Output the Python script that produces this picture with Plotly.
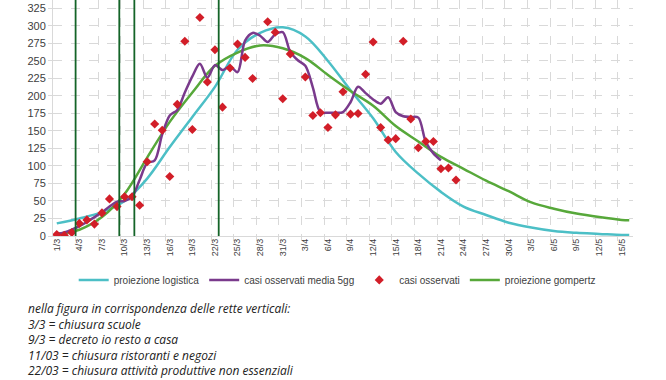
import plotly.graph_objects as go

# ---- data ----
tick_labels = ["1/3", "4/3", "7/3", "10/3", "13/3", "16/3", "19/3", "22/3", "25/3", "28/3",
               "31/3", "3/4", "6/4", "9/4", "12/4", "15/4", "18/4", "21/4", "24/4", "27/4",
               "30/4", "3/5", "6/5", "9/5", "12/5", "15/5"]
tick_days = list(range(0, 76, 3))          # day index of each tick label (1/3 = day 0)

observed_days = list(range(0, 54))
observed_cases = [2, 1, 5, 18, 23, 17, 33, 53, 42, 56,
                  56, 44, 106, 160, 151, 85, 188, 278, 152, 312,
                  220, 266, 184, 240, 274, 255, 225, None, 306, 291,
                  196, 260, None, 227, 172, 176, 155, 173, 206, 174,
                  175, 231, 277, 155, 137, 139, 278, 167, 126, 135,
                  135, 96, 97, 80]

ma5_days = list(range(0, 52))
ma5_cases = [3, 5, 9, 14, 20, 27, 34, 42, 49, 50,
             56, 80, 104, 108, 145, 172, 180, 205, 228, 246,
             226, 244, 237, 242, 234, 279, 290, 286, 277, 288,
             291, 263, 251, 243, 212, 177, 176, 176, 177, 191,
             213, 204, 195, 189, 198, 177, 171, 170, 169, 134,
             118, 108]

fit_days = [0, 3, 6, 9, 12, 15, 18, 21, 24, 27, 30, 33, 36, 39, 42, 45, 48, 51,
            54, 57, 60, 63, 66, 69, 72, 75, 76]
logistic = [18, 25, 34, 50, 82, 127, 170, 213, 266, 290, 298, 285, 250, 208, 168, 120,
            89, 63, 42, 30, 19, 12, 7, 4.5, 3, 1.5, 1.3]
gompertz = [3, 9, 27, 60, 112, 163, 205, 243, 262, 272, 268, 254, 230, 207, 186, 157,
            135, 113, 96, 79, 64, 48, 39, 32, 27, 23, 22.5]

event_days = [2.5, 8.3, 10.3, 21.5]         # 3/3, 9/3, 11/03, 22/03 as drawn
grid_days = [d + 2.5 for d in range(0, 75, 3)]

note_lines = ["nella figura in corrispondenza delle rette verticali:",
              "3/3 = chiusura scuole",
              "9/3 = decreto io resto a casa",
              "11/03 = chiusura ristoranti e negozi",
              "22/03 = chiusura attività produttive non essenziali"]

# ---- styles ----
C_LOG = "#4cbfc6"
C_MA = "#7a3a8c"
C_OBS = "#d21e28"
C_GOMP = "#57a83a"
C_EVENT = "#146428"
GRID = "#d9d9d9"
TXT = "#404040"

fig = go.Figure()
fig.add_trace(go.Scatter(x=fit_days, y=logistic, mode="lines", name="proiezione logistica",
                         line=dict(color=C_LOG, width=2.5, shape="spline"), legendrank=1))
fig.add_trace(go.Scatter(x=fit_days, y=gompertz, mode="lines", name="proiezione gompertz",
                         line=dict(color=C_GOMP, width=2.5, shape="spline"), legendrank=4))
fig.add_trace(go.Scatter(x=ma5_days, y=ma5_cases, mode="lines", name="casi osservati media 5gg",
                         line=dict(color=C_MA, width=2.5, shape="spline", smoothing=0.9),
                         legendrank=2))
fig.add_trace(go.Scatter(x=observed_days, y=observed_cases, mode="markers", name="casi osservati",
                         xaxis="x2",
                         marker=dict(symbol="diamond", size=7, color=C_OBS), legendrank=3))

for d in event_days:
    fig.add_shape(type="line", xref="x", yref="paper", x0=d, x1=d, y0=0, y1=1,
                  line=dict(color=C_EVENT, width=1.8), layer="above")

# explanatory note below the chart
plot_h = 236
fig.add_annotation(text="<br>".join("<i>" + s + "</i>" for s in note_lines),
                   xref="paper", yref="paper",
                   x=(27 - 53) / 580, y=(plot_h - 339.5) / plot_h,
                   xanchor="left", yanchor="middle", align="left", borderpad=0,
                   showarrow=False,
                   font=dict(family="Open Sans", size=12, color="#222222"))

fig.update_layout(
    width=666, height=380,
    margin=dict(l=53, r=33, t=0, b=144),
    paper_bgcolor="white", plot_bgcolor="white",
    font=dict(family="Liberation Sans, Arial", color=TXT),
    showlegend=True,
    legend=dict(orientation="h", x=0.49, xanchor="center", y=-0.186, yanchor="middle",
                font=dict(size=10, color=TXT), itemwidth=30, traceorder="normal",
                bgcolor="rgba(0,0,0,0)"),
    xaxis=dict(range=[-0.5, 76.5], tickvals=grid_days, showticklabels=False,
               showgrid=True, gridcolor=GRID, griddash="dash", gridwidth=1,
               showline=True, linecolor=GRID, linewidth=1, zeroline=False,
               ticks="outside", ticklen=4, tickcolor=GRID),
    xaxis2=dict(range=[-0.5, 76.5], overlaying="x", anchor="y", side="bottom",
                tickvals=tick_days, ticktext=tick_labels, tickangle=-90,
                tickfont=dict(size=9, color=TXT), showgrid=False, zeroline=False,
                showline=False, ticks=""),
    yaxis=dict(range=[0, 337], tickvals=list(range(0, 326, 25)),
               tickfont=dict(size=11, color=TXT),
               showgrid=True, gridcolor=GRID, griddash="dash", gridwidth=1,
               showline=True, linecolor=GRID, linewidth=1, zeroline=False,
               ticks="outside", ticklen=4, tickcolor=GRID),
)

fig.write_html("out.html", config={"displayModeBar": False},
               post_script="document.body.style.margin='0px';")
